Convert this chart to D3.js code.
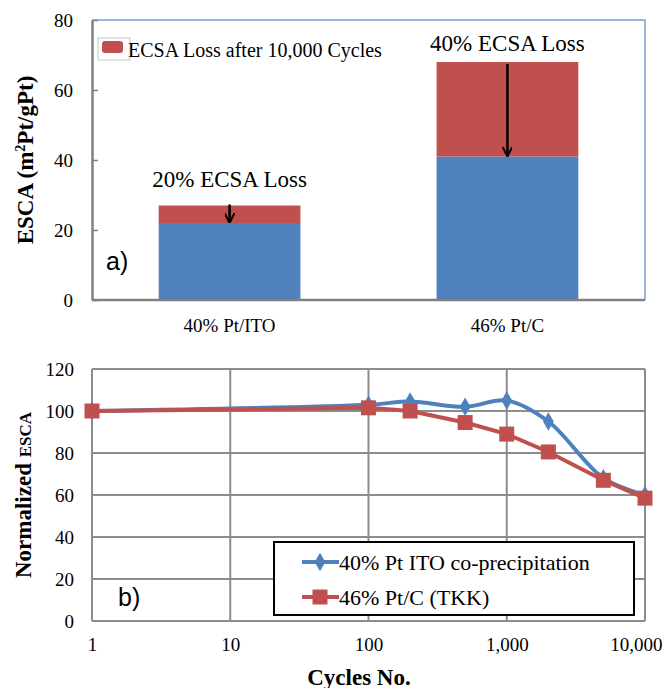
<!DOCTYPE html>
<html>
<head>
<meta charset="utf-8">
<script src="https://cdn.jsdelivr.net/npm/d3@7"></script>
<style>
  body { margin: 0; background: #fff; }
  svg text { font-family: "Liberation Serif", "Times New Roman", serif; fill: #000; }
</style>
</head>
<body>
<svg id="chart"></svg>
<script>
// panel a) bar data
const materials = ['40% Pt/ITO', '46% Pt/C']
const ecsaAfter = [22, 41]
const ecsaLoss = [5, 27]
const lossLabels = ['20% ECSA Loss', '40% ECSA Loss']
const barTicks = [0, 20, 40, 60, 80]

// panel b) durability curves
const cycles = [1, 100, 200, 500, 1000, 2000, 5000, 10000]
const ptIto = [100, 103, 104.5, 102, 105, 95, 68, 60]
const ptC = [100, 101.5, 100, 94.5, 89, 80.5, 67, 58.5]
const cycleTicks = [1, 10, 100, 1000, 10000]
const normTicks = [0, 20, 40, 60, 80, 100, 120]

const blue = '#4f81bd', red = '#c0504d', grid = '#8c8c8c'
const serif = '"Liberation Serif", "Times New Roman", serif'
const sans = '"Liberation Sans", Arial, sans-serif'
const width = 663, height = 688

const svg = d3.select('#chart').attr('width', width).attr('height', height)

svg.append('defs').append('marker')
  .attr('id', 'head')
  .attr('viewBox', '0 0 10 10')
  .attr('refX', 9).attr('refY', 5)
  .attr('markerWidth', 4).attr('markerHeight', 4)
  .attr('orient', 'auto')
  .append('path').attr('d', 'M0,0 L10,5 L0,10').attr('fill', 'none').attr('stroke', '#000').attr('stroke-width', 2)

drawBars()
drawLines()

function drawBars() {
  const left = 92, right = 645, top = 20, bottom = 300
  const x = d3.scaleBand().domain(materials).range([left, right]).paddingInner(0.49).paddingOuter(0.24)
  const y = d3.scaleLinear().domain([0, 80]).range([bottom, top])

  // frame: blue on top/right, grey axes
  svg.append('path')
    .attr('d', `M${left},${top}H${right}V${bottom}`)
    .attr('fill', 'none').attr('stroke', '#7f9fcf').attr('stroke-width', 1.5)

  const g = svg.append('g')
  g.selectAll('.after').data(materials).enter().append('rect')
    .attr('x', d => x(d)).attr('width', x.bandwidth())
    .attr('y', (d, i) => y(ecsaAfter[i]))
    .attr('height', (d, i) => y(0) - y(ecsaAfter[i]))
    .attr('fill', blue)
  g.selectAll('.loss').data(materials).enter().append('rect')
    .attr('x', d => x(d)).attr('width', x.bandwidth())
    .attr('y', (d, i) => y(ecsaAfter[i] + ecsaLoss[i]))
    .attr('height', (d, i) => y(ecsaAfter[i]) - y(ecsaAfter[i] + ecsaLoss[i]))
    .attr('fill', red)

  // arrows showing the loss
  g.selectAll('.arrow').data(materials).enter().append('line')
    .attr('x1', d => x(d) + x.bandwidth() / 2).attr('x2', d => x(d) + x.bandwidth() / 2)
    .attr('y1', (d, i) => y(ecsaAfter[i] + ecsaLoss[i]) - (i === 0 ? 1 : -2))
    .attr('y2', (d, i) => y(ecsaAfter[i]) - 1)
    .attr('stroke', '#000').attr('stroke-width', 2.5)
    .attr('marker-end', 'url(#head)')

  g.selectAll('.lossLabel').data(materials).enter().append('text')
    .attr('x', d => x(d) + x.bandwidth() / 2)
    .attr('y', (d, i) => i === 0 ? 187 : 51)
    .attr('text-anchor', 'middle')
    .style('font-family', serif).style('font-size', '23px')
    .text((d, i) => lossLabels[i])

  const yAxis = svg.append('g')
    .attr('transform', `translate(${left},0)`)
    .call(d3.axisLeft(y).tickValues(barTicks).tickSizeInner(-6).tickSizeOuter(0).tickPadding(19))
  yAxis.select('.domain').attr('stroke', '#808080').attr('stroke-width', 2.5)
  yAxis.selectAll('.tick line').attr('stroke', '#808080').attr('stroke-width', 1.5)
  yAxis.selectAll('text').style('font-size', '19px').style('font-family', serif).attr('dy', '0.35em')

  const xAxis = svg.append('g')
    .attr('transform', `translate(0,${bottom})`)
    .call(d3.axisBottom(x).tickSize(0).tickPadding(19))
  xAxis.select('.domain').attr('d', `M${left},0H${right}`).attr('stroke', '#808080').attr('stroke-width', 2.5)
  xAxis.selectAll('text').style('font-size', '19px').style('font-family', serif)

  // legend
  svg.append('rect').attr('x', 98).attr('y', 38).attr('width', 32).attr('height', 22)
    .attr('fill', '#fff').attr('stroke', '#c8c8c8')
  svg.append('rect').attr('x', 102).attr('y', 41).attr('width', 21).attr('height', 12).attr('rx', 3)
    .attr('fill', red)
  svg.append('text').attr('x', 128).attr('y', 57)
    .style('font-family', serif).style('font-size', '20px')
    .text('ECSA Loss after 10,000 Cycles')

  svg.append('text').attr('x', 106).attr('y', 270)
    .style('font-family', sans).style('font-size', '25px')
    .text('a)')

  const t = svg.append('text')
    .attr('transform', `translate(33,${(top + bottom) / 2}) rotate(-90)`)
    .attr('text-anchor', 'middle')
    .style('font-family', serif).style('font-size', '23px').style('font-weight', 'bold')
  t.append('tspan').text('ESCA  (m')
  t.append('tspan').attr('dy', -8).style('font-size', '14px').text('2')
  t.append('tspan').attr('dy', 8).text('Pt/gPt)')
}

function drawLines() {
  const left = 92, right = 645, top = 369, bottom = 621
  const x = d3.scaleLog().domain([1, 10000]).range([left, right])
  const y = d3.scaleLinear().domain([0, 120]).range([bottom, top])

  const g = svg.append('g')
  g.selectAll('.hgrid').data(normTicks).enter().append('line')
    .attr('x1', left).attr('x2', right).attr('y1', d => y(d)).attr('y2', d => y(d))
    .attr('stroke', grid).attr('stroke-width', 2)
  g.selectAll('.vgrid').data(cycleTicks).enter().append('line')
    .attr('x1', d => x(d)).attr('x2', d => x(d)).attr('y1', top).attr('y2', bottom)
    .attr('stroke', grid).attr('stroke-width', 2)

  const yAxis = svg.append('g')
    .attr('transform', `translate(${left},0)`)
    .call(d3.axisLeft(y).tickValues(normTicks).tickSize(0).tickPadding(18))
  yAxis.select('.domain').remove()
  yAxis.selectAll('text').style('font-size', '19px').style('font-family', serif).attr('dy', '0.35em')

  const xAxis = svg.append('g')
    .attr('transform', `translate(0,${bottom})`)
    .call(d3.axisBottom(x).tickValues(cycleTicks).tickFormat(d3.format(',')).tickSize(0).tickPadding(17))
  xAxis.select('.domain').remove()
  xAxis.selectAll('text').style('font-size', '19px').style('font-family', serif)
  xAxis.selectAll('.tick').filter(d => d === 10000).select('text')
    .attr('text-anchor', 'end').attr('dx', width - 1 - right)

  const blueLine = d3.line().x((d, i) => x(cycles[i])).y(d => y(d)).curve(d3.curveCatmullRom.alpha(0.5))
  const redLine = d3.line().x((d, i) => x(cycles[i])).y(d => y(d))

  g.append('path').datum(ptIto).attr('d', blueLine)
    .attr('fill', 'none').attr('stroke', blue).attr('stroke-width', 4)
  g.selectAll('.diamond').data(ptIto).enter().append('path')
    .attr('d', d3.symbol(d3.symbolDiamond, 100))
    .attr('transform', (d, i) => `translate(${x(cycles[i])},${y(d)})`)
    .attr('fill', blue)

  g.append('path').datum(ptC).attr('d', redLine)
    .attr('fill', 'none').attr('stroke', red).attr('stroke-width', 4)
  g.selectAll('.square').data(ptC).enter().append('rect')
    .attr('x', (d, i) => x(cycles[i]) - 7.5).attr('y', d => y(d) - 7.5)
    .attr('width', 15).attr('height', 15)
    .attr('fill', red)

  // legend
  const lg = svg.append('g')
  lg.append('rect').attr('x', 274).attr('y', 542).attr('width', 360).attr('height', 73)
    .attr('fill', '#fff').attr('stroke', '#000').attr('stroke-width', 2)
  const entries = [
    { label: '40% Pt ITO co-precipitation', color: blue, shape: 'diamond' },
    { label: '46% Pt/C (TKK)', color: red, shape: 'square' }
  ]
  entries.forEach((e, i) => {
    const cy = 562 + i * 35
    lg.append('line').attr('x1', 302).attr('x2', 339).attr('y1', cy).attr('y2', cy)
      .attr('stroke', e.color).attr('stroke-width', 4)
    if (e.shape === 'diamond') {
      lg.append('path').attr('d', d3.symbol(d3.symbolDiamond, 100)).attr('transform', `translate(320,${cy})`).attr('fill', e.color)
    } else {
      lg.append('rect').attr('x', 312.5).attr('y', cy - 7.5).attr('width', 15).attr('height', 15).attr('fill', e.color)
    }
    lg.append('text').attr('x', 339).attr('y', cy + 8)
      .style('font-family', serif).style('font-size', '22px').text(e.label)
  })

  svg.append('text').attr('x', 118).attr('y', 606)
    .style('font-family', sans).style('font-size', '25px')
    .text('b)')

  svg.append('text').attr('x', 359).attr('y', 685)
    .attr('text-anchor', 'middle')
    .style('font-family', serif).style('font-size', '23px').style('font-weight', 'bold')
    .text('Cycles No.')

  const t = svg.append('text')
    .attr('transform', `translate(31,${(top + bottom) / 2}) rotate(-90)`)
    .attr('text-anchor', 'middle')
    .style('font-family', serif).style('font-weight', 'bold')
  t.append('tspan').style('font-size', '23px').text('Normalized ')
  t.append('tspan').style('font-size', '17px').text('ESCA')
}
</script>
</body>
</html>
